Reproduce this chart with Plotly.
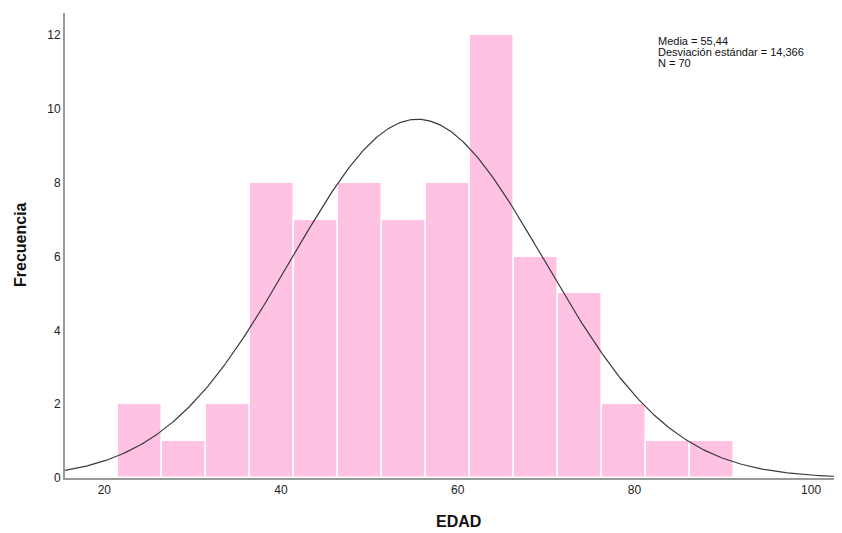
import numpy as np
import plotly.graph_objects as go

# Data
bin_start = 21.6
bin_width = 4.98
counts = [2, 1, 2, 8, 7, 8, 7, 8, 12, 6, 5, 2, 1, 1]
mean_val = 55.44
sd_val = 14.366
n_val = 70
x_ticks = [20, 40, 60, 80, 100]
y_ticks = [0, 2, 4, 6, 8, 10, 12]

centers = [bin_start + bin_width * (i + 0.5) for i in range(len(counts))]

xs = np.linspace(15.5, 104, 400)
pdf = np.exp(-0.5 * ((xs - mean_val) / sd_val) ** 2) / (sd_val * np.sqrt(2 * np.pi))
ys = pdf * n_val * 5.0

fig = go.Figure()
fig.add_trace(go.Bar(
    x=centers, y=counts, width=[bin_width] * len(counts),
    marker=dict(color="#FFC2E2", line=dict(color="white", width=1.5)),
    hoverinfo="skip", showlegend=False,
))
fig.add_trace(go.Scatter(
    x=xs, y=ys, mode="lines",
    line=dict(color="#3a3a3a", width=1.2),
    showlegend=False, hoverinfo="skip",
))

# page body has an 8px margin: work in viewport pixels, offset by OFF
OFF = 8
W, H = 842 - OFF, 533 - OFF
L, R, T, B = 65 - OFF, 0, 13 - OFF, 533 - 478
plot_w = W - L - R
plot_h = H - T - B


def px_x(px):
    return (px - OFF - L) / plot_w


def px_y(py):
    return (H - B - (py - OFF)) / plot_h


font_family = "Liberation Sans, Arial, sans-serif"
stats_lines = [
    f"Media = {mean_val:.2f}".replace(".", ","),
    f"Desviación estándar = {sd_val:.3f}".replace(".", ","),
    f"N = {n_val}",
]
annotations = []
for i, line in enumerate(stats_lines):
    annotations.append(dict(
        x=px_x(656), y=px_y(41 + 11 * i), xref="paper", yref="paper",
        xanchor="left", yanchor="middle", text=line, showarrow=False,
        font=dict(size=11, color="#111", family=font_family),
    ))
annotations.append(dict(
    x=px_x(458), y=px_y(521), xref="paper", yref="paper",
    xanchor="center", yanchor="middle", text="<b>EDAD</b>", showarrow=False,
    font=dict(size=16, color="#111", family=font_family),
))
annotations.append(dict(
    x=px_x(20), y=px_y(245), xref="paper", yref="paper",
    xanchor="center", yanchor="middle", text="<b>Frecuencia</b>", showarrow=False,
    textangle=-90, font=dict(size=16, color="#111", family=font_family),
))

fig.update_layout(
    width=W, height=H,
    margin=dict(l=L, r=R, t=T, b=B),
    plot_bgcolor="white", paper_bgcolor="white",
    bargap=0,
    font=dict(family=font_family, size=11, color="#222"),
    xaxis=dict(
        range=[15.55, 103.5], tickvals=x_ticks, ticks="", showgrid=False, zeroline=False,
        showline=True, linecolor="#9a9a9a", linewidth=2, automargin=False,
        tickfont=dict(size=12, color="#222"),
    ),
    yaxis=dict(
        range=[0, 12.6], tickvals=y_ticks, ticks="", showgrid=False, zeroline=False,
        showline=True, linecolor="#9a9a9a", linewidth=2, automargin=False,
        tickfont=dict(size=12, color="#222"),
    ),
    annotations=annotations,
)
fig.write_html("out.html")
